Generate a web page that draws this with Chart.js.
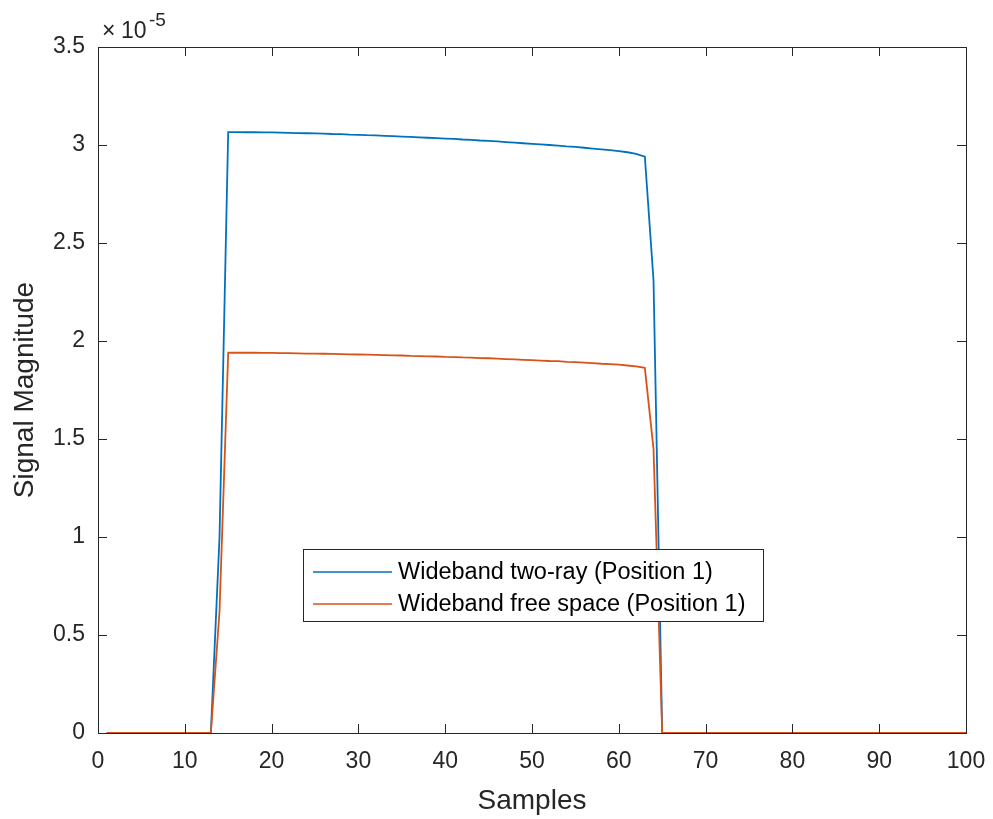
<!DOCTYPE html>
<html>
<head>
<meta charset="utf-8">
<script src="https://cdn.jsdelivr.net/npm/chart.js@4.4.1/dist/chart.umd.min.js"></script>
<style>
  html, body { margin: 0; padding: 0; background: #fff; }
  #wrap { width: 993px; height: 819px; }
</style>
</head>
<body>
<div id="wrap"><canvas id="signalChart"></canvas></div>
<script>
// Sample indices 1..100
const samples = [
  1, 2, 3, 4, 5, 6, 7, 8, 9, 10, 11, 12, 13, 14, 15, 16, 17, 18, 19, 20,
  21, 22, 23, 24, 25, 26, 27, 28, 29, 30, 31, 32, 33, 34, 35, 36, 37, 38, 39, 40,
  41, 42, 43, 44, 45, 46, 47, 48, 49, 50, 51, 52, 53, 54, 55, 56, 57, 58, 59, 60,
  61, 62, 63, 64, 65, 66, 67, 68, 69, 70, 71, 72, 73, 74, 75, 76, 77, 78, 79, 80,
  81, 82, 83, 84, 85, 86, 87, 88, 89, 90, 91, 92, 93, 94, 95, 96, 97, 98, 99, 100
];

// Magnitudes in units of 1e-5
const twoRay = [
  0, 0, 0, 0, 0, 0, 0, 0, 0, 0, 0, 0, 0, 1.0, 3.066, 3.066, 3.065, 3.065, 3.064, 3.064,
  3.063, 3.062, 3.061, 3.060, 3.059, 3.058, 3.056, 3.055, 3.053, 3.052, 3.050, 3.049, 3.047, 3.045, 3.043, 3.041, 3.039, 3.037, 3.035, 3.033,
  3.031, 3.028, 3.026, 3.023, 3.021, 3.018, 3.015, 3.012, 3.009, 3.006, 3.003, 3.000, 2.997, 2.993, 2.990, 2.986, 2.982, 2.978, 2.974, 2.969,
  2.963, 2.955, 2.941, 2.31, 0, 0, 0, 0, 0, 0, 0, 0, 0, 0, 0, 0, 0, 0, 0, 0,
  0, 0, 0, 0, 0, 0, 0, 0, 0, 0, 0, 0, 0, 0, 0, 0, 0, 0, 0, 0
];

const freeSpace = [
  0, 0, 0, 0, 0, 0, 0, 0, 0, 0, 0, 0, 0, 0.62, 1.940, 1.940, 1.940, 1.940, 1.939, 1.939,
  1.938, 1.938, 1.937, 1.936, 1.936, 1.935, 1.934, 1.933, 1.932, 1.931, 1.930, 1.929, 1.928, 1.927, 1.926, 1.924, 1.923, 1.922, 1.921, 1.919,
  1.918, 1.916, 1.915, 1.913, 1.912, 1.910, 1.908, 1.906, 1.904, 1.902, 1.900, 1.898, 1.897, 1.894, 1.892, 1.890, 1.887, 1.884, 1.882, 1.879,
  1.875, 1.870, 1.863, 1.45, 0, 0, 0, 0, 0, 0, 0, 0, 0, 0, 0, 0, 0, 0, 0, 0,
  0, 0, 0, 0, 0, 0, 0, 0, 0, 0, 0, 0, 0, 0, 0, 0, 0, 0, 0, 0
];

const seriesLabels = ['Wideband two-ray (Position 1)', 'Wideband free space (Position 1)'];
const seriesColors = ['#0072BD', '#D95319'];
const xTicks = [0, 10, 20, 30, 40, 50, 60, 70, 80, 90, 100];
const yTicks = [0, 0.5, 1, 1.5, 2, 2.5, 3, 3.5];
const exponent = '-5';

const axisColor = '#262626';
const fontFamily = "'Liberation Sans', Arial, Helvetica, sans-serif";

function toPoints(values) {
    return samples.map((s, i) => ({ x: s, y: values[i] }));
}

// Box frame, inward ticks, exponent label and legend (MATLAB look)
const matlabAxes = {
    id: 'matlabAxes',
    afterDraw(chart) {
        const ctx = chart.ctx;
        const a = chart.chartArea;
        const xs = chart.scales.x;
        const ys = chart.scales.y;
        const tickLen = 9;

        ctx.save();
        ctx.strokeStyle = axisColor;
        ctx.lineWidth = 1;

        // ticks pointing inward, on all four sides
        ctx.beginPath();
        xTicks.forEach(v => {
            const px = Math.round(xs.getPixelForValue(v)) + 0.5;
            ctx.moveTo(px, a.bottom); ctx.lineTo(px, a.bottom - tickLen);
            ctx.moveTo(px, a.top); ctx.lineTo(px, a.top + tickLen);
        });
        yTicks.forEach(v => {
            const py = Math.round(ys.getPixelForValue(v)) + 0.5;
            ctx.moveTo(a.left, py); ctx.lineTo(a.left + tickLen, py);
            ctx.moveTo(a.right, py); ctx.lineTo(a.right - tickLen, py);
        });
        ctx.stroke();

        // frame
        ctx.strokeRect(Math.round(a.left) + 0.5, Math.round(a.top) + 0.5,
            Math.round(a.right - a.left), Math.round(a.bottom - a.top));

        // exponent label
        ctx.fillStyle = axisColor;
        ctx.textBaseline = 'alphabetic';
        ctx.textAlign = 'left';
        ctx.font = '23px ' + fontFamily;
        ctx.fillText('\u00d7', a.left + 4, 38);
        ctx.fillText('10', a.left + 23, 38);
        ctx.font = '19px ' + fontFamily;
        ctx.fillText(exponent, a.left + 51, 26);

        // legend box
        const box = { left: 303.5, top: 549.5, width: 460, height: 72 };
        ctx.fillStyle = '#ffffff';
        ctx.fillRect(box.left, box.top, box.width, box.height);
        ctx.strokeStyle = axisColor;
        ctx.strokeRect(box.left, box.top, box.width, box.height);
        ctx.font = '23.5px ' + fontFamily;
        ctx.textBaseline = 'middle';
        const rows = [572, 604];
        seriesLabels.forEach((label, i) => {
            ctx.strokeStyle = seriesColors[i];
            ctx.lineWidth = 1.5;
            ctx.beginPath();
            ctx.moveTo(313, rows[i]);
            ctx.lineTo(392, rows[i]);
            ctx.stroke();
            ctx.fillStyle = '#000000';
            ctx.fillText(label, 398, rows[i] + 1);
        });
        ctx.restore();
    }
};

const ctx = document.getElementById('signalChart').getContext('2d');
new Chart(ctx, {
    type: 'line',
    data: {
        datasets: [
            {
                label: seriesLabels[0],
                data: toPoints(twoRay),
                borderColor: seriesColors[0],
                borderWidth: 1.8,
                pointRadius: 0,
                tension: 0,
                fill: false,
                order: 2
            },
            {
                label: seriesLabels[1],
                data: toPoints(freeSpace),
                borderColor: seriesColors[1],
                borderWidth: 1.8,
                pointRadius: 0,
                tension: 0,
                fill: false,
                order: 1
            }
        ]
    },
    options: {
        responsive: true,
        maintainAspectRatio: false,
        animation: false,
        layout: {
            padding: { left: 0, right: 27, top: 47, bottom: 0 }
        },
        plugins: {
            legend: { display: false },
            tooltip: { enabled: false }
        },
        scales: {
            x: {
                type: 'linear',
                min: 0,
                max: 100,
                grid: { display: false, drawTicks: false },
                border: { display: false },
                afterBuildTicks: scale => {
                    scale.ticks = xTicks.map(v => ({ value: v }));
                },
                afterFit: scale => {
                    scale.height = 86;
                    scale.paddingLeft = 0;
                    scale.paddingRight = 0;
                },
                ticks: {
                    color: axisColor,
                    padding: 15,
                    maxRotation: 0,
                    font: { family: fontFamily, size: 23 }
                },
                title: {
                    display: true,
                    text: 'Samples',
                    color: axisColor,
                    padding: { top: 0, bottom: 1 },
                    font: { family: fontFamily, size: 28 }
                }
            },
            y: {
                type: 'linear',
                min: 0,
                max: 3.5,
                grid: { display: false, drawTicks: false },
                border: { display: false },
                afterBuildTicks: scale => {
                    scale.ticks = yTicks.map(v => ({ value: v }));
                },
                afterFit: scale => {
                    scale.width = 98;
                    scale.paddingTop = 0;
                    scale.paddingBottom = 0;
                },
                ticks: {
                    color: axisColor,
                    padding: 13,
                    font: { family: fontFamily, size: 23 },
                    callback: v => String(v)
                },
                title: {
                    display: true,
                    text: 'Signal Magnitude',
                    color: axisColor,
                    padding: { top: 8, bottom: 0 },
                    font: { family: fontFamily, size: 28 }
                }
            }
        }
    },
    plugins: [matlabAxes]
});
</script>
</body>
</html>
